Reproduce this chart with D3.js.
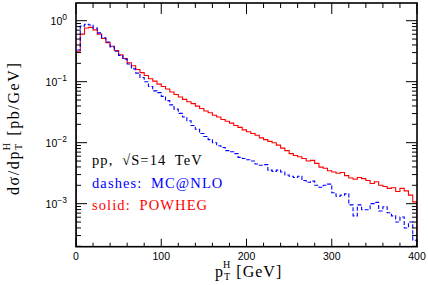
<!DOCTYPE html>
<html>
<head>
<meta charset="utf-8">
<script src="https://cdn.jsdelivr.net/npm/d3@7"></script>
<style>
  body { margin: 0; background: #fff; }
</style>
</head>
<body>
<div id="chart"></div>
<script>
// pT^H bins, 5 GeV wide, 0..400 GeV
const binWidth = 5;
const xMax = 400;

// solid red: POWHEG  [pb/GeV]
const powheg = [
  0.316, 0.603, 0.759, 0.776, 0.708, 0.603, 0.513, 0.437, 0.380, 0.324,
  0.275, 0.240, 0.204, 0.182, 0.158, 0.141, 0.126, 0.112, 0.102, 0.0912,
  0.0832, 0.0759, 0.0676, 0.0617, 0.0562, 0.0513, 0.0468, 0.0437, 0.0398, 0.0363,
  0.0331, 0.0309, 0.0282, 0.0263, 0.0240, 0.0224, 0.0209, 0.0191, 0.0178, 0.0162,
  0.0151, 0.0141, 0.0132, 0.0120, 0.0112, 0.0105, 0.0100, 0.00912, 0.00813, 0.00741,
  0.00661, 0.00617, 0.00589, 0.00550, 0.00501, 0.00513, 0.00457, 0.00398, 0.00380, 0.00347,
  0.00331, 0.00316, 0.00324, 0.00288, 0.00263, 0.00251, 0.00269, 0.00257, 0.00240, 0.00214,
  0.00229, 0.00200, 0.00191, 0.00178, 0.00182, 0.00158, 0.00178, 0.00162, 0.00138, 0.00107
];

// dashed blue: MC@NLO  [pb/GeV]
const mcatnlo = [
  0.331, 0.813, 0.871, 0.851, 0.759, 0.631, 0.525, 0.447, 0.372, 0.316,
  0.269, 0.234, 0.195, 0.162, 0.138, 0.117, 0.100, 0.0832, 0.0708, 0.0661,
  0.0575, 0.0490, 0.0417, 0.0355, 0.0302, 0.0263, 0.0229, 0.0191, 0.0166, 0.0141,
  0.0126, 0.0112, 0.0100, 0.00891, 0.00832, 0.00741, 0.00708, 0.00661, 0.00575, 0.00550,
  0.00525, 0.00501, 0.00447, 0.00427, 0.00437, 0.00355, 0.00339, 0.00355, 0.00331, 0.00295,
  0.00282, 0.00269, 0.00282, 0.00240, 0.00224, 0.00234, 0.00200, 0.00186, 0.00200, 0.00209,
  0.00151, 0.00132, 0.00138, 0.00145, 0.000955, 0.000631, 0.000955, 0.000794, 0.000794, 0.00100,
  0.00105, 0.000759, 0.000891, 0.000708, 0.000631, 0.000501, 0.000603, 0.000398, 0.000501, 0.000251
];

const xMajor = [0, 100, 200, 300, 400];
const yExponents = [0, -1, -2, -3];
const legendLines = [
  { text: "pp, \u221AS=14 TeV", color: "black" },
  { text: "dashes: MC@NLO", color: "blue" },
  { text: "solid: POWHEG", color: "red" }
];

const W = 428, H = 285;
const pLeft = 76, pRight = 417, pTop = 3, pBottom = 246.7;

const svg = d3.select("#chart").append("svg")
  .attr("width", W)
  .attr("height", H);

const x = d3.scaleLinear().domain([0, xMax]).range([pLeft, pRight]);
const y = d3.scaleLog().domain([1.97e-4, 1.95]).range([pBottom, pTop]);

svg.append("clipPath").attr("id", "plotclip")
  .append("rect")
    .attr("x", pLeft).attr("y", pTop)
    .attr("width", pRight - pLeft).attr("height", pBottom - pTop);

function histPoints(vals) {
  var pts = [[0, y.domain()[0]]];
  for (var i = 0; i < vals.length; i++) {
    pts.push([i * binWidth, vals[i]]);
    pts.push([(i + 1) * binWidth, vals[i]]);
  }
  pts.push([vals.length * binWidth, y.domain()[0]]);
  return pts;
}

const line = d3.line().x(d => x(d[0])).y(d => y(d[1]));

const plot = svg.append("g").attr("clip-path", "url(#plotclip)");

plot.append("path")
  .attr("d", line(histPoints(powheg)))
  .attr("fill", "none")
  .attr("stroke", "red")
  .attr("stroke-width", 1.1);

plot.append("path")
  .attr("d", line(histPoints(mcatnlo)))
  .attr("fill", "none")
  .attr("stroke", "blue")
  .attr("stroke-width", 1.1)
  .attr("stroke-dasharray", "4,2");

// frame
svg.append("rect")
  .attr("x", pLeft).attr("y", pTop)
  .attr("width", pRight - pLeft).attr("height", pBottom - pTop)
  .attr("fill", "none")
  .attr("stroke", "black")
  .attr("stroke-width", 1.6);

const ticks = svg.append("g").attr("stroke", "black").attr("stroke-width", 1);

// x ticks, top and bottom
d3.range(0, xMax + 1, 20).forEach(function(v) {
  var major = (v % 100 === 0);
  var lb = major ? 8 : 4;
  var lt = major ? 11 : 5;
  ticks.append("line").attr("x1", x(v)).attr("x2", x(v))
    .attr("y1", pBottom).attr("y2", pBottom - lb);
  ticks.append("line").attr("x1", x(v)).attr("x2", x(v))
    .attr("y1", pTop).attr("y2", pTop + lt);
});

// y ticks, left and right
yExponents.concat([-4]).forEach(function(e) {
  for (var m = 1; m <= 9; m++) {
    var v = m * Math.pow(10, e);
    if (v < y.domain()[0] || v > y.domain()[1]) continue;
    var len = (m === 1) ? 11 : 5;
    ticks.append("line").attr("x1", pLeft).attr("x2", pLeft + len)
      .attr("y1", y(v)).attr("y2", y(v));
    ticks.append("line").attr("x1", pRight).attr("x2", pRight - len)
      .attr("y1", y(v)).attr("y2", y(v));
  }
});

// tick labels
const sans = "'Liberation Sans', Arial, sans-serif";
xMajor.forEach(function(v) {
  svg.append("text")
    .attr("x", x(v)).attr("y", 260)
    .attr("text-anchor", "middle")
    .style("font-family", sans)
    .style("font-size", "10.5px")
    .text(v);
});

yExponents.forEach(function(e) {
  var t = svg.append("text")
    .attr("x", 67).attr("y", y(Math.pow(10, e)) + 4)
    .attr("text-anchor", "end")
    .style("font-family", sans)
    .style("font-size", "10.5px");
  t.append("tspan").text("10");
  t.append("tspan").attr("dy", -5).style("font-size", "8.5px").text(e === 0 ? "0" : "\u2212" + (-e));
});

// axis titles
const serif = "'Liberation Serif', 'Times New Roman', serif";
const xt = svg.append("text")
  .attr("x", 215).attr("y", 277)
  .style("font-family", serif)
  .style("font-size", "16px")
  .style("letter-spacing", "1px");
xt.append("tspan").text("p");
xt.append("tspan").attr("dy", 3).style("font-size", "10px").text("T");
xt.append("tspan").attr("dx", -8).attr("dy", -12).style("font-size", "10px").text("H");
xt.append("tspan").attr("dy", 9).text(" [GeV]");

const yt = svg.append("text")
  .attr("transform", "translate(19,195) rotate(-90)")
  .style("font-family", serif)
  .style("font-size", "16px")
  .style("letter-spacing", "1.6px");
yt.append("tspan").text("d\u03C3/dp");
yt.append("tspan").attr("dy", 3).style("font-size", "10px").text("T");
yt.append("tspan").attr("dx", -8).attr("dy", -12).style("font-size", "10px").text("H");
yt.append("tspan").attr("dy", 9).text(" [pb/GeV]");

// legend text
legendLines.forEach(function(d, i) {
  svg.append("text")
    .attr("x", 92).attr("y", 165 + i * 22.5)
    .style("font-family", serif)
    .style("font-size", "14.5px")
    .style("letter-spacing", "1.1px")
    .style("word-spacing", "4px")
    .attr("fill", d.color)
    .text(d.text);
});
</script>
</body>
</html>
